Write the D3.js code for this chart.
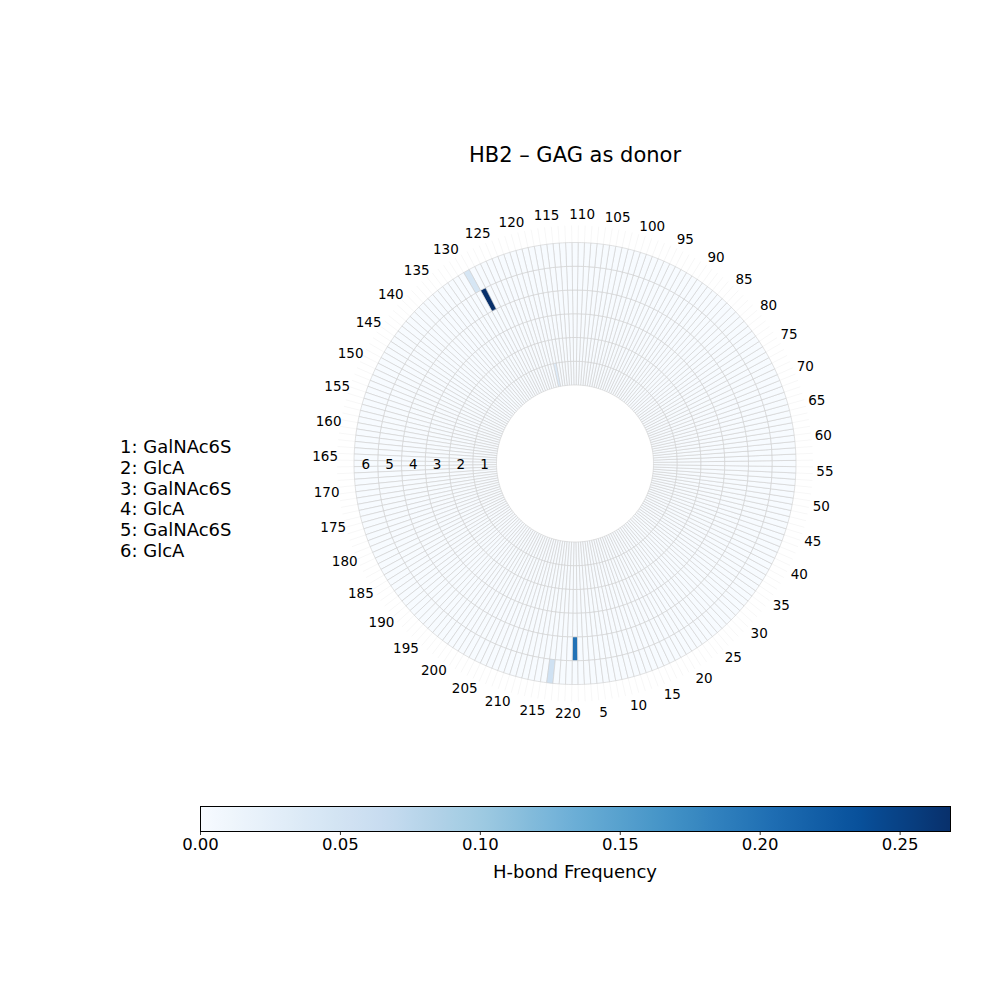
<!DOCTYPE html>
<html>
<head>
<meta charset="utf-8">
<script src="https://cdn.jsdelivr.net/npm/d3@7"></script>
<style>
  body { margin: 0; background: #fff; }
  svg text { font-family: "DejaVu Sans", sans-serif; fill: #000; }
</style>
</head>
<body>
<div id="chart"></div>
<script>
// protein residues around the circle, GAG residues as rings
const residues = d3.range(1, 221);
const gagNames = ["GalNAc6S", "GlcA", "GalNAc6S", "GlcA", "GalNAc6S", "GlcA"];
const tickResidues = residues.filter(n => n % 5 === 0);

// non-zero H-bond frequencies (protein residue, GAG ring, frequency)
const hbResidue = [1, 128, 129, 118, 217];
const hbRing    = [5, 5, 6, 1, 6];
const hbFreq    = [0.200, 0.268, 0.045, 0.035, 0.055];

const colorbarTicks = [0, 0.05, 0.10, 0.15, 0.20, 0.25];
const vmax = 0.268;

const width = 1000, height = 1000;
const cx = 575, cy = 463.5;

const svg = d3.select("#chart").append("svg")
    .attr("width", width)
    .attr("height", height);

// matplotlib "Blues"
const bluesStops = ["#f7fbff", "#deebf7", "#c6dbef", "#9ecae1", "#6baed6", "#4292c6", "#2171b5", "#08519c", "#08306b"];
const color = d3.scaleLinear()
    .domain(bluesStops.map((d, i) => vmax * i / (bluesStops.length - 1)))
    .range(bluesStops)
    .interpolate(d3.interpolateRgb)
    .clamp(true);

// angle: residue 1 at the bottom, counter-clockwise
const angle = d3.scaleLinear().domain([1, 221]).range([Math.PI, -Math.PI]);
const radius = d3.scaleLinear().domain([0, 6]).range([78.5, 221]);

// grid of cells
const lookup = new Map();
hbResidue.forEach((r, i) => lookup.set(r + "-" + hbRing[i], hbFreq[i]));

const cells = [];
gagNames.forEach((name, k) => {
    residues.forEach(n => {
        cells.push({ res: n, ring: k + 1, value: lookup.get(n + "-" + (k + 1)) || 0 });
    });
});

const chart = svg.append("g").attr("transform", `translate(${cx},${cy})`);

// faint theta grid beyond the mesh
chart.append("g").selectAll("line")
    .data(residues)
    .enter().append("line")
    .attr("x1", d => radius(6) * Math.sin(angle(d - 0.5)))
    .attr("y1", d => -radius(6) * Math.cos(angle(d - 0.5)))
    .attr("x2", d => 238 * Math.sin(angle(d - 0.5)))
    .attr("y2", d => -238 * Math.cos(angle(d - 0.5)))
    .attr("stroke", "#efefef")
    .attr("stroke-width", 0.5);

const arc = d3.arc()
    .innerRadius(d => radius(d.ring - 1))
    .outerRadius(d => radius(d.ring))
    .startAngle(d => angle(d.res - 0.5))
    .endAngle(d => angle(d.res + 0.5));

chart.append("g").selectAll("path")
    .data(cells)
    .enter().append("path")
    .attr("d", arc)
    .attr("fill", d => color(d.value))
    .attr("stroke", "#cfcfcf")
    .attr("stroke-width", 0.6);

// residue tick labels
chart.append("g").selectAll("text")
    .data(tickResidues)
    .enter().append("text")
    .attr("x", d => 250 * Math.sin(angle(d)))
    .attr("y", d => -250 * Math.cos(angle(d)))
    .attr("text-anchor", "middle")
    .attr("dominant-baseline", "central")
    .attr("font-size", "13.5px")
    .text(d => d);

// ring labels
chart.append("g").selectAll("text")
    .data(gagNames)
    .enter().append("text")
    .attr("x", (d, i) => -radius(i + 0.5))
    .attr("y", 0)
    .attr("text-anchor", "middle")
    .attr("dominant-baseline", "central")
    .attr("font-size", "13.5px")
    .text((d, i) => i + 1);

// title
svg.append("text")
    .attr("x", cx)
    .attr("y", 162)
    .attr("text-anchor", "middle")
    .attr("font-size", "21px")
    .text("HB2 \u2013 GAG as donor");

// legend of ring names
svg.append("g").selectAll("text")
    .data(gagNames)
    .enter().append("text")
    .attr("x", 120)
    .attr("y", (d, i) => 453 + i * 20.8)
    .attr("font-size", "18px")
    .text((d, i) => `${i + 1}: ${d}`);

// colorbar
const cbX = d3.scaleLinear().domain([0, vmax]).range([200, 950]);
const cbY = 806, cbH = 25;

const grad = svg.append("defs").append("linearGradient")
    .attr("id", "cbgrad")
    .attr("x1", "0%").attr("x2", "100%").attr("y1", "0%").attr("y2", "0%");
grad.selectAll("stop")
    .data(d3.range(0, 1.0001, 0.02))
    .enter().append("stop")
    .attr("offset", d => (d * 100) + "%")
    .attr("stop-color", d => color(d * vmax));

svg.append("rect")
    .attr("x", cbX(0) + 0.5)
    .attr("y", cbY + 0.5)
    .attr("width", cbX(vmax) - cbX(0))
    .attr("height", cbH)
    .attr("fill", "url(#cbgrad)")
    .attr("stroke", "#000")
    .attr("stroke-width", 1);

const cbAxis = svg.append("g")
    .attr("transform", `translate(0,${cbY + cbH + 0.5})`)
    .call(d3.axisBottom(cbX).tickValues(colorbarTicks).tickFormat(d3.format(".2f")).tickSize(3.5).tickPadding(3.5));
cbAxis.select(".domain").remove();
cbAxis.selectAll("text")
    .attr("font-size", "16.5px")
    .attr("font-family", "DejaVu Sans, sans-serif");
cbAxis.selectAll("line").attr("stroke", "#000").attr("stroke-width", 0.8);

svg.append("text")
    .attr("x", 575)
    .attr("y", 878)
    .attr("text-anchor", "middle")
    .attr("font-size", "18px")
    .text("H-bond Frequency");
</script>
</body>
</html>
